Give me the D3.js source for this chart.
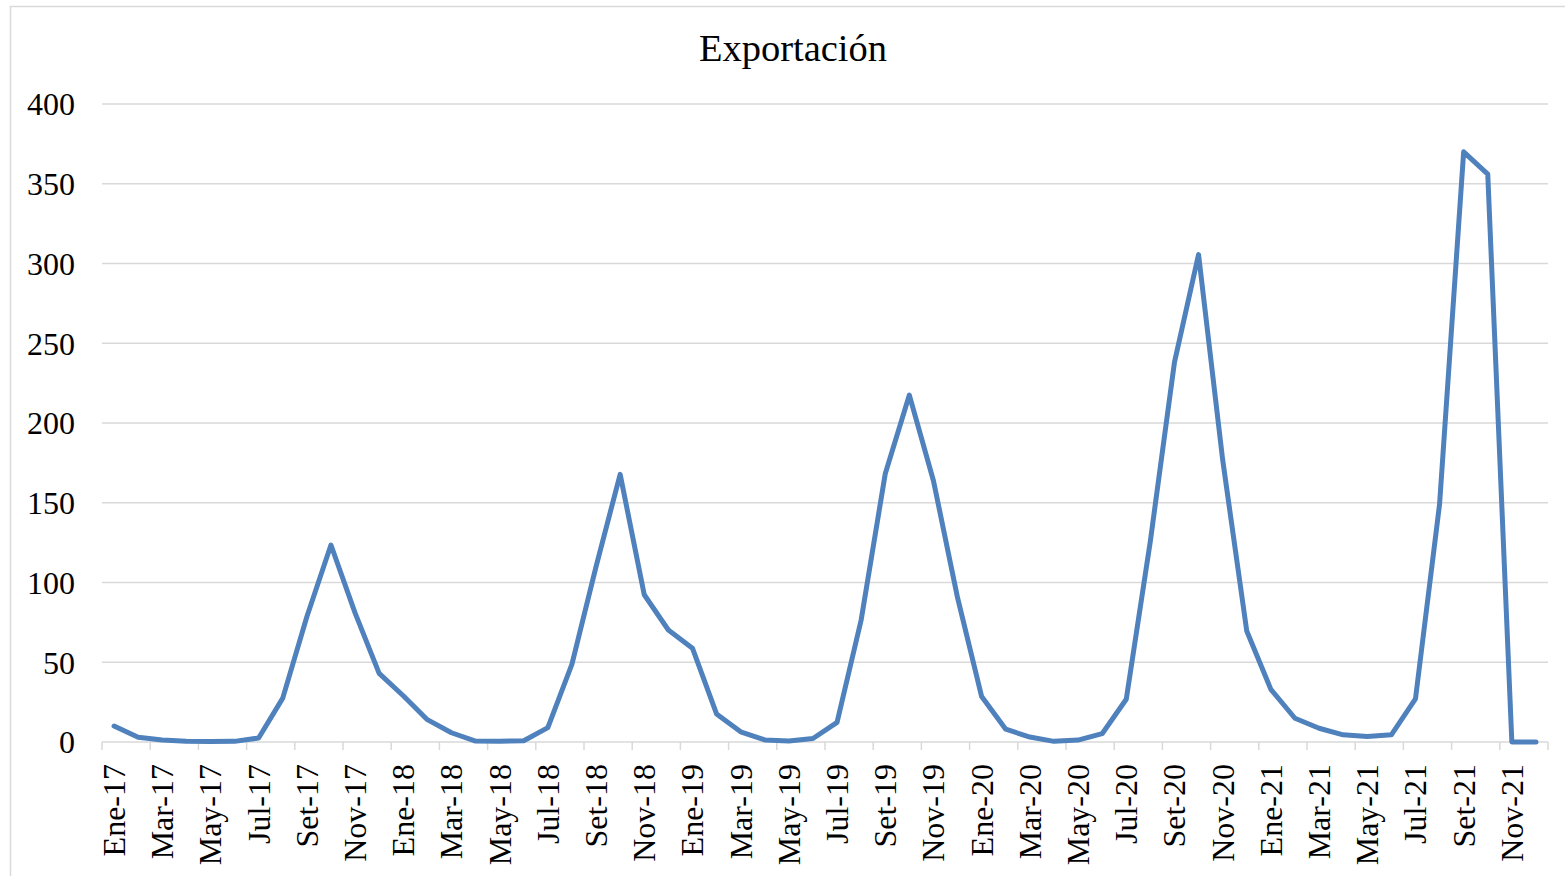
<!DOCTYPE html>
<html>
<head>
<meta charset="utf-8">
<script src="https://cdn.jsdelivr.net/npm/d3@7/dist/d3.min.js"></script>
<style>
  html, body { margin: 0; padding: 0; background: #fff; }
  svg { display: block; }
  text { font-family: "Liberation Serif", "Times New Roman", serif; fill: #000; }
</style>
</head>
<body>
<svg id="chart" width="1565" height="876"></svg>
<script>
const title = "Exportación";
const monthNames = ["Ene","Feb","Mar","Abr","May","Jun","Jul","Ago","Set","Oct","Nov","Dic"];
const years = ["17","18","19","20","21"];
const categories = [];
years.forEach(y => monthNames.forEach(m => categories.push(m + "-" + y)));

const values = [
  10, 3, 1.2, 0.4, 0.3, 0.4, 2.5, 27.5, 78.5, 123.5, 81, 43,
  29, 14, 5.8, 0.6, 0.5, 0.8, 9, 48.8, 110, 167.8, 92.3, 70.2,
  58.8, 17.6, 6.4, 1.3, 0.6, 2.2, 12.3, 76.5, 168.2, 217.5, 163.8, 90.5,
  28.5, 8, 3.1, 0.4, 1.2, 5.2, 26.8, 126, 238, 305.6, 177, 69.6,
  33, 14.9, 8.6, 4.5, 3.5, 4.5, 27, 149, 370, 356, 0, 0
];
const yTicks = [0, 50, 100, 150, 200, 250, 300, 350, 400];

const svg = d3.select("#chart");
const plotLeft = 102, plotRight = 1548, plotTop = 104, plotBottom = 742;

// outer chart border
svg.append("rect")
  .attr("x", 10.5).attr("y", 6.5)
  .attr("width", 1600).attr("height", 900)
  .attr("fill", "none").attr("stroke", "#D9D9D9").attr("stroke-width", 1.5);

const x = d3.scaleBand().domain(categories).range([plotLeft, plotRight]).padding(0);
const y = d3.scaleLinear().domain([0, 400]).range([plotBottom, plotTop]);

// gridlines
svg.append("g").selectAll("line")
  .data(yTicks.filter(d => d > 0))
  .join("line")
  .attr("x1", plotLeft).attr("x2", plotRight)
  .attr("y1", d => y(d)).attr("y2", d => y(d))
  .attr("stroke", "#D9D9D9").attr("stroke-width", 1.5);

// y axis labels
const yAxis = d3.axisLeft(y).tickValues(yTicks).tickSize(0).tickPadding(0).tickFormat(d3.format("d"));
const gy = svg.append("g").attr("transform", `translate(75,0)`).call(yAxis);
gy.select(".domain").remove();
gy.selectAll("text")
  .style("font-family", '"Liberation Serif", "Times New Roman", serif')
  .style("font-size", "32px").attr("fill", "#000").attr("dy", "0.34em");

// x axis line
svg.append("line")
  .attr("x1", plotLeft).attr("x2", plotRight)
  .attr("y1", plotBottom).attr("y2", plotBottom)
  .attr("stroke", "#D9D9D9").attr("stroke-width", 1.5);

// tick marks at every second category boundary
const boundaries = d3.range(0, categories.length + 1, 2);
svg.append("g").selectAll("line")
  .data(boundaries)
  .join("line")
  .attr("x1", i => plotLeft + i * x.bandwidth())
  .attr("x2", i => plotLeft + i * x.bandwidth())
  .attr("y1", plotBottom).attr("y2", plotBottom + 8)
  .attr("stroke", "#D9D9D9").attr("stroke-width", 1.5);

// x labels (every second category)
const xAxis = d3.axisBottom(x)
  .tickValues(categories.filter((d, i) => i % 2 === 0))
  .tickSize(0).tickPadding(0);
const gx = svg.append("g").attr("transform", `translate(0,${plotBottom})`).call(xAxis);
gx.select(".domain").remove();
gx.selectAll(".tick line").remove();
gx.selectAll("text")
  .style("font-family", '"Liberation Serif", "Times New Roman", serif')
  .style("font-size", "32px").attr("fill", "#000")
  .attr("text-anchor", "end")
  .attr("transform", "translate(0,22) rotate(-90)")
  .attr("x", 0).attr("y", 0).attr("dy", "0.34em");

// line
const line = d3.line()
  .x((d, i) => x(categories[i]) + x.bandwidth() / 2)
  .y(d => y(d));
svg.append("path")
  .datum(values)
  .attr("d", line)
  .attr("fill", "none")
  .attr("stroke", "#4F81BD")
  .attr("stroke-width", 5)
  .attr("stroke-linejoin", "round")
  .attr("stroke-linecap", "round");

// title
svg.append("text")
  .attr("x", 793).attr("y", 61)
  .attr("text-anchor", "middle")
  .style("font-size", "38.5px")
  .text(title);
</script>
</body>
</html>
